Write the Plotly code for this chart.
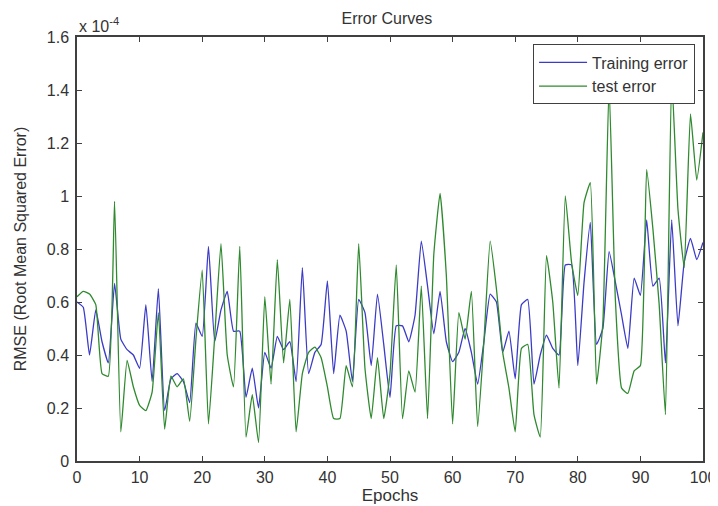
import plotly.graph_objects as go

epochs = list(range(0, 101))

# RMSE values in units of 1e-4
train_error = [
    0.60, 0.58, 0.40, 0.57, 0.45, 0.37, 0.67, 0.46, 0.42, 0.40,
    0.35, 0.59, 0.30, 0.65, 0.19, 0.31, 0.33, 0.30, 0.22, 0.52,
    0.47, 0.81, 0.45, 0.57, 0.64, 0.49, 0.49, 0.24, 0.35, 0.20,
    0.41, 0.35, 0.47, 0.42, 0.45, 0.30, 0.73, 0.33, 0.41, 0.44,
    0.68, 0.33, 0.55, 0.49, 0.30, 0.61, 0.56, 0.36, 0.63, 0.44,
    0.24, 0.51, 0.51, 0.45, 0.55, 0.83, 0.66, 0.48, 0.64, 0.45,
    0.375, 0.41, 0.50, 0.41, 0.29, 0.45, 0.63, 0.60, 0.41, 0.49,
    0.31, 0.59, 0.61, 0.29, 0.40, 0.475, 0.425, 0.40, 0.74, 0.74,
    0.36, 0.675, 0.90, 0.44, 0.50, 0.79, 0.675, 0.55, 0.425, 0.69,
    0.625, 0.91, 0.66, 0.69, 0.37, 0.91, 0.51, 0.75, 0.84, 0.76,
    0.825,
]

test_error = [
    0.62, 0.64, 0.63, 0.59, 0.33, 0.32, 0.98, 0.11, 0.38, 0.28,
    0.21, 0.19, 0.26, 0.56, 0.12, 0.32, 0.28, 0.31, 0.15, 0.46,
    0.72, 0.14, 0.47, 0.82, 0.40, 0.28, 0.81, 0.09, 0.25, 0.07,
    0.62, 0.29, 0.76, 0.37, 0.61, 0.11, 0.33, 0.41, 0.43, 0.39,
    0.28, 0.16, 0.16, 0.36, 0.28, 0.82, 0.35, 0.16, 0.39, 0.16,
    0.33, 0.74, 0.16, 0.34, 0.26, 0.66, 0.16, 0.78, 1.01, 0.70,
    0.14, 0.56, 0.46, 0.64, 0.13, 0.45, 0.83, 0.65, 0.41, 0.275,
    0.11, 0.425, 0.44, 0.175, 0.09, 0.775, 0.60, 0.275, 1.00, 0.75,
    0.625, 0.975, 1.05, 0.29, 0.52, 1.42, 0.61, 0.275, 0.255, 0.34,
    0.36, 1.10, 0.875, 0.59, 0.175, 1.45, 0.95, 0.73, 1.31, 1.06,
    1.24,
]

x_ticks = [0, 10, 20, 30, 40, 50, 60, 70, 80, 90, 100]
y_ticks = [0, 0.2, 0.4, 0.6, 0.8, 1.0, 1.2, 1.4, 1.6]
y_tick_labels = ["0", "0.2", "0.4", "0.6", "0.8", "1", "1.2", "1.4", "1.6"]

FONT = "Liberation Sans, Arial, sans-serif"
TXT = "#333333"

fig = go.Figure()
fig.add_trace(go.Scatter(x=epochs, y=train_error, mode="lines", name="Training error",
                         line=dict(color="#3b3bc8", width=1.3, shape="spline", smoothing=0.4)))
fig.add_trace(go.Scatter(x=epochs, y=test_error, mode="lines", name="test error",
                         line=dict(color="#2f8a2f", width=1.3, shape="spline", smoothing=0.4)))

axis_common = dict(showline=True, linecolor="#404040", linewidth=1.5, mirror="ticks",
                   ticks="inside", ticklen=5, tickcolor="#404040", tickwidth=1.2,
                   showgrid=False, zeroline=False, automargin=False,
                   tickfont=dict(family=FONT, size=16, color=TXT))

# the page body adds an 8px offset, so the figure is sized to fit the 718x506 window
fig.update_layout(
    width=710, height=498,
    paper_bgcolor="white", plot_bgcolor="white",
    margin=dict(l=69, r=15, t=29, b=45),
    title=dict(text="Error Curves", xref="paper", x=0.495, xanchor="center",
               yref="container", y=0.98, yanchor="middle",
               font=dict(family=FONT, size=16, color=TXT)),
    xaxis=dict(range=[0, 100], tickvals=x_ticks, ticklabelstandoff=1,
               title=dict(text="Epochs", font=dict(family=FONT, size=17, color=TXT), standoff=0),
               **axis_common),
    yaxis=dict(range=[0, 1.6], tickvals=y_ticks, ticktext=y_tick_labels, ticklabelstandoff=3,
               title=dict(text="RMSE (Root Mean Squared Error)",
                          font=dict(family=FONT, size=16, color=TXT), standoff=16),
               **axis_common),
    legend=dict(x=0.987, y=0.983, xanchor="right", yanchor="top",
                bgcolor="white", bordercolor="#404040", borderwidth=1.2,
                font=dict(family=FONT, size=16, color=TXT),
                tracegroupgap=0, itemwidth=48),
    showlegend=True,
)

fig.add_annotation(xref="paper", yref="paper", x=0.0, y=1.0, xanchor="left", yanchor="bottom",
                   text="x 10<sup>-4</sup>", showarrow=False, yshift=0,
                   font=dict(family=FONT, size=16, color=TXT))

fig.write_html("out.html")
